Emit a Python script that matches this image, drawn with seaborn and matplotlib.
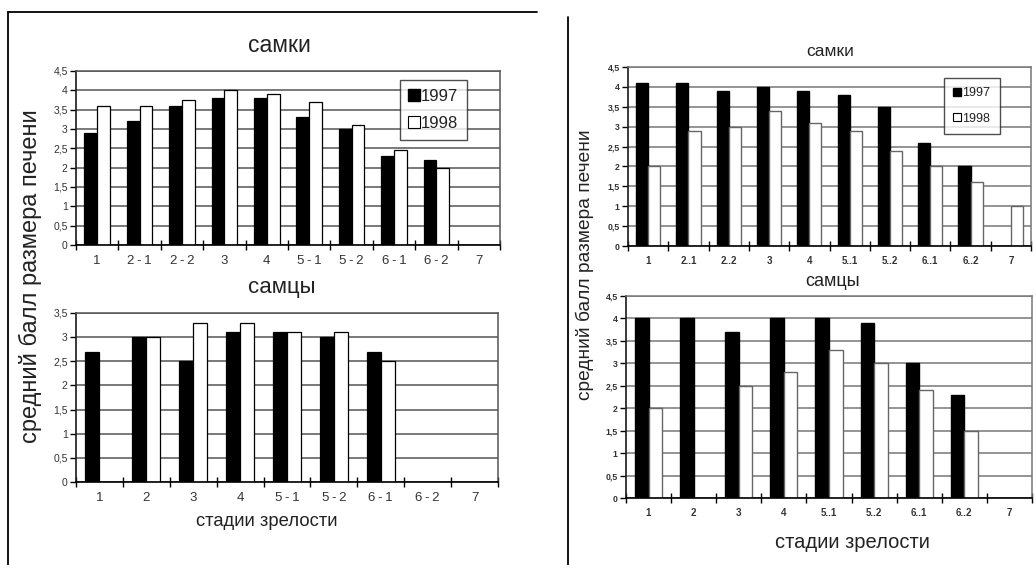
import numpy as np
import pandas as pd
import matplotlib
matplotlib.use("Agg")
import matplotlib.pyplot as plt
from matplotlib.lines import Line2D
import seaborn as sns

# ---- data -------------------------------------------------------------
years = ["1997", "1998"]

# 1997 / 1998, first survey
stages_a_f = ["1", "2-1", "2-2", "3", "4", "5-1", "5-2", "6-1", "6-2", "7"]
fem_a_97 = [2.9, 3.2, 3.6, 3.8, 3.8, 3.3, 3.0, 2.3, 2.2, np.nan]
fem_a_98 = [3.6, 3.6, 3.75, 4.0, 3.9, 3.7, 3.1, 2.45, 2.0, np.nan]

stages_a_m = ["1", "2", "3", "4", "5-1", "5-2", "6-1", "6-2", "7"]
male_a_97 = [2.7, 3.0, 2.5, 3.1, 3.1, 3.0, 2.7, np.nan, np.nan]
male_a_98 = [np.nan, 3.0, 3.3, 3.3, 3.1, 3.1, 2.5, np.nan, np.nan]

# second survey
stages_b_f = ["1", "2..1", "2..2", "3", "4", "5..1", "5..2", "6..1", "6..2", "7"]
fem_b_97 = [4.1, 4.1, 3.9, 4.0, 3.9, 3.8, 3.5, 2.6, 2.0, np.nan]
fem_b_98 = [2.0, 2.9, 3.0, 3.4, 3.1, 2.9, 2.4, 2.0, 1.6, 1.0]

stages_b_m = ["1", "2", "3", "4", "5..1", "5..2", "6..1", "6..2", "7"]
male_b_97 = [4.0, 4.0, 3.7, 4.0, 4.0, 3.9, 3.0, 2.3, np.nan]
male_b_98 = [2.0, np.nan, 2.5, 2.8, 3.3, 3.0, 2.4, 1.5, np.nan]

title_f = "самки"
title_m = "самцы"
ylab = "средний балл размера печени"
xlab = "стадии зрелости"

# ---- style ------------------------------------------------------------
sns.set_theme(style="white")
plt.rcParams["font.family"] = ["Liberation Sans", "DejaVu Sans"]

W, H = 1036, 565
fig = plt.figure(figsize=(W / 100, H / 100), dpi=100)
fig.patch.set_facecolor("white")


def fx(px):
    return px / W


def fy(py):
    return 1 - py / H


def rect(x0, y0, x1, y1):
    return [fx(x0), fy(y1), fx(x1) - fx(x0), fy(y0) - fy(y1)]


def spaced(label):
    # wide hyphen spacing for the stage codes
    return label.replace("-", "\u2009-\u2009")


def panel(ax, stages, v97, v98, ymax, grid_col, edge_col, tick_fs, ytick_fs, lw,
          tick_weight="normal", label_fn=lambda s: s):
    n = len(stages)
    df = pd.DataFrame({
        "stage": stages * 2,
        "year": [years[0]] * n + [years[1]] * n,
        "value": list(v97) + list(v98),
    })
    sns.barplot(data=df, x="stage", y="value", hue="year", order=stages,
                hue_order=years, palette={years[0]: "black", years[1]: "white"},
                width=0.6, saturation=1, errorbar=None, edgecolor=edge_col,
                linewidth=lw, legend=False, ax=ax)
    for p in ax.patches:
        if p.get_facecolor()[0] < 0.5:
            p.set_edgecolor("black")
    ax.set_xlim(-0.5, n - 0.5)
    ax.set_ylim(0, ymax)
    yt = np.arange(0, ymax + 0.01, 0.5)
    ax.set_yticks(yt)
    ax.set_yticklabels([("%g" % v).replace(".", ",") for v in yt], fontsize=ytick_fs,
                       color="#333333", fontweight=tick_weight)
    ax.set_xticks(range(n))
    ax.set_xticklabels([label_fn(s) for s in stages], fontsize=tick_fs, color="#333333",
                       fontweight=tick_weight)
    ax.set_xticks(np.arange(-0.5, n, 1.0), minor=True)
    ax.tick_params(axis="x", which="major", length=0, pad=7)
    ax.tick_params(axis="x", which="minor", length=7, width=1, direction="inout", color="black", bottom=True)
    ax.tick_params(axis="y", which="major", length=4, width=1, direction="out", color="black", left=True, pad=2)
    ax.yaxis.grid(True, color=grid_col, linewidth=1.1)
    ax.xaxis.grid(False)
    ax.set_axisbelow(True)
    ax.set_xlabel("")
    ax.set_ylabel("")
    for s in ("top", "right"):
        ax.spines[s].set_color(grid_col)
        ax.spines[s].set_linewidth(1.1)
    ax.spines["left"].set_color("#222222")
    ax.spines["bottom"].set_color("black")
    ax.spines["bottom"].set_linewidth(1.2)
    ax.set_facecolor("white")


def legend(ax, x0, y0, fs, ms, spacing, pad):
    handles = [
        Line2D([], [], marker="s", linestyle="none", markerfacecolor="black",
               markeredgecolor="black", markersize=ms),
        Line2D([], [], marker="s", linestyle="none", markerfacecolor="white",
               markeredgecolor="black", markersize=ms, markeredgewidth=0.8),
    ]
    lg = ax.legend(handles, years, loc="upper left", bbox_to_anchor=(fx(x0), fy(y0)),
                   bbox_transform=fig.transFigure, fontsize=fs, frameon=True,
                   fancybox=False, edgecolor="#222222", handlelength=0.6,
                   handletextpad=0.1, labelspacing=spacing, borderpad=pad,
                   borderaxespad=0)
    lg.get_frame().set_linewidth(1.0)
    lg.get_frame().set_facecolor("white")
    for t in lg.get_texts():
        t.set_color("#222222")


# ---- left block ---------------------------------------------------------
ax1 = fig.add_axes(rect(76, 71, 500, 245))
panel(ax1, stages_a_f, fem_a_97, fem_a_98, 4.5, "#555555", "black", 9.5, 7.5, 0.9,
      label_fn=spaced)
legend(ax1, 400, 80, 12, 8, 0.7, 0.55)

ax2 = fig.add_axes(rect(76, 313, 498, 482))
panel(ax2, stages_a_m, male_a_97, male_a_98, 3.5, "#555555", "black", 9.5, 7.5, 0.9,
      label_fn=spaced)

fig.text(fx(279), fy(45), title_f, ha="center", va="center", fontsize=16.5, color="#222222")
fig.text(fx(282), fy(287), title_m, ha="center", va="center", fontsize=16, color="#222222")
fig.text(fx(267), fy(521), xlab, ha="center", va="center", fontsize=13.2, color="#222222")
fig.text(fx(30), fy(276), ylab, ha="center", va="center", rotation=90, fontsize=17, color="#222222")

# ---- right block --------------------------------------------------------
ax3 = fig.add_axes(rect(628, 67, 1031, 246))
panel(ax3, stages_b_f, fem_b_97, fem_b_98, 4.5, "#777777", "#666666", 7, 6.3, 1.0,
      tick_weight="bold")
legend(ax3, 944, 78, 9, 6, 1.05, 0.75)

ax4 = fig.add_axes(rect(626, 296, 1032, 498))
panel(ax4, stages_b_m, male_b_97, male_b_98, 4.5, "#777777", "#666666", 7, 6.3, 1.0,
      tick_weight="bold")

fig.text(fx(830), fy(51), title_f, ha="center", va="center", fontsize=12.5, color="#222222")
fig.text(fx(833), fy(281), title_m, ha="center", va="center", fontsize=13, color="#222222")
fig.text(fx(852), fy(542), xlab, ha="center", va="center", fontsize=14.5, color="#222222")
fig.text(fx(585), fy(265), ylab, ha="center", va="center", rotation=90, fontsize=13.8, color="#222222")

# ---- frame lines --------------------------------------------------------
fig.add_artist(Line2D([fx(8), fx(537)], [fy(12), fy(12)], color="black", lw=1.3))
fig.add_artist(Line2D([fx(8), fx(8)], [fy(12), fy(566)], color="black", lw=1.3))
fig.add_artist(Line2D([fx(568), fx(568)], [fy(17), fy(566)], color="black", lw=1.3))

fig.savefig("out.png", dpi=100, facecolor="white")
